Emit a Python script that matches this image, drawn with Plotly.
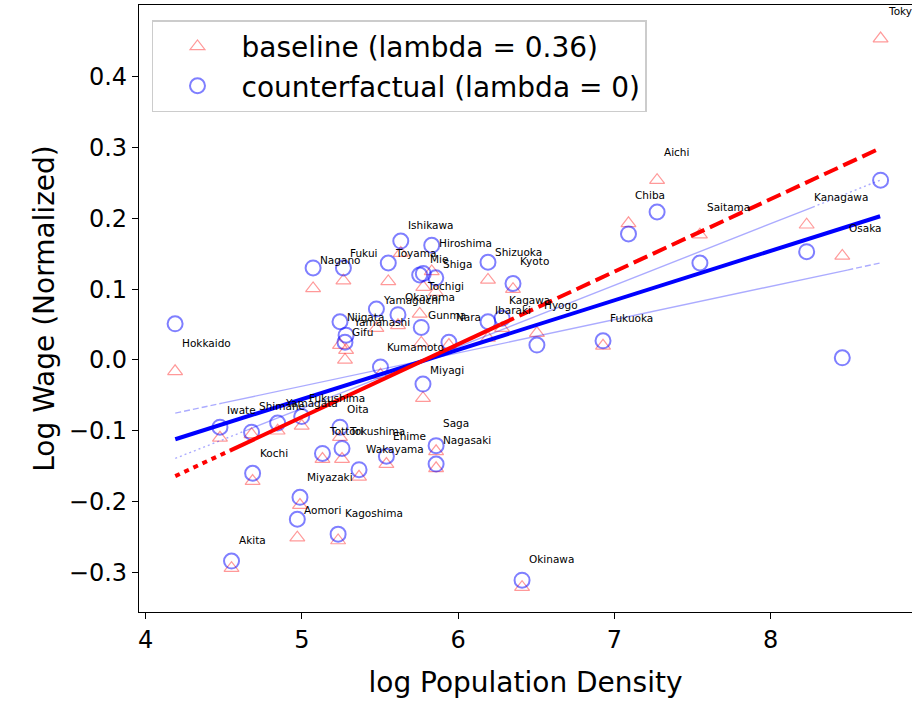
import plotly.graph_objects as go

# ---------------- data ----------------
prefectures = ["Hokkaido", "Aomori", "Iwate", "Miyagi", "Akita", "Yamagata", "Fukushima",
               "Ibaraki", "Tochigi", "Gunma", "Saitama", "Chiba", "Tokyo", "Kanagawa",
               "Niigata", "Toyama", "Ishikawa", "Fukui", "Yamanashi", "Nagano", "Gifu",
               "Shizuoka", "Aichi", "Mie", "Shiga", "Kyoto", "Osaka", "Hyogo", "Nara",
               "Wakayama", "Tottori", "Shimane", "Okayama", "Hiroshima", "Yamaguchi",
               "Tokushima", "Kagawa", "Ehime", "Kochi", "Fukuoka", "Saga", "Nagasaki",
               "Kumamoto", "Oita", "Miyazaki", "Kagoshima", "Okinawa"]

log_density = [4.189, 4.971, 4.476, 5.775, 4.550, 4.845, 4.999,
               6.191, 5.754, 5.764, 7.547, 7.090, 8.703, 8.230,
               5.244, 5.553, 5.633, 5.266, 5.283, 5.072, 5.276,
               6.191, 7.273, 5.777, 5.857, 6.351, 8.458, 6.504, 5.941,
               5.366, 5.132, 4.678, 5.615, 5.831, 5.477,
               5.257, 6.281, 5.541, 4.685, 6.927, 5.859, 5.859,
               5.503, 5.244, 4.988, 5.232, 6.409]

wage_baseline = [-0.016, -0.251, -0.110, -0.054, -0.294, -0.100, -0.093,
                 0.031, 0.065, 0.024, 0.177, 0.193, 0.454, 0.191,
                 0.021, 0.111, 0.151, 0.112, 0.014, 0.101, 0.000,
                 0.113, 0.254, 0.103, 0.096, 0.100, 0.147, 0.038, 0.021,
                 -0.165, -0.140, -0.105, 0.049, 0.125, 0.045,
                 -0.140, 0.045, -0.147, -0.171, 0.020, -0.129, -0.153,
                 -0.021, -0.109, -0.205, -0.255, -0.321]

wage_counterfactual = [0.051, -0.225, -0.095, -0.034, -0.284, -0.089, -0.080,
                       0.054, 0.120, 0.046, 0.137, 0.178, 0.254, 0.153,
                       0.054, 0.137, 0.168, 0.130, 0.035, 0.130, 0.025,
                       0.138, 0.209, 0.122, 0.116, 0.108, 0.003, 0.021, 0.025,
                       -0.155, -0.132, -0.102, 0.064, 0.162, 0.072,
                       -0.125, 0.059, -0.136, -0.160, 0.027, -0.121, -0.147,
                       -0.010, -0.095, -0.194, -0.246, -0.311]

# fitted lines: breakpoints (x) and values (y)
red_fit_x = [4.19, 4.54, 6.27, 8.70]
red_fit_y = [-0.164, -0.128, 0.050, 0.299]
blue_fit_x = [4.19, 8.70]
blue_fit_y = [-0.112, 0.203]
band_low_x = [4.19, 4.49, 8.49, 8.70]
band_low_y = [-0.075, -0.061, 0.127, 0.137]
band_high_x = [4.19, 4.65, 8.27, 8.70]
band_high_y = [-0.139, -0.099, 0.216, 0.254]

legend_labels = ["baseline (lambda = 0.36)", "counterfactual (lambda = 0)"]
x_ticks = [4, 5, 6, 7, 8]
y_ticks = [-0.3, -0.2, -0.1, 0.0, 0.1, 0.2, 0.3, 0.4]
x_title = "log Population Density"
y_title = "Log Wage (Normalized)"

FONT = "DejaVu Sans"

fig = go.Figure()

fig.add_trace(go.Scatter(
    x=log_density, y=wage_baseline, mode="markers", name=legend_labels[0],
    marker=dict(symbol="triangle-up-open", size=13,
                color="rgba(255,0,0,0.4)", line=dict(width=1.2, color="rgba(255,0,0,0.4)")),
))
fig.add_trace(go.Scatter(
    x=log_density, y=wage_counterfactual, mode="markers", name=legend_labels[1],
    marker=dict(symbol="circle-open", size=15,
                color="rgba(0,0,255,0.5)", line=dict(width=2, color="rgba(0,0,255,0.5)")),
))


def seg(xs, ys, i, j, color, width, dash):
    fig.add_trace(go.Scatter(x=xs[i:j + 1], y=ys[i:j + 1], mode="lines", showlegend=False,
                             hoverinfo="skip",
                             line=dict(color=color, width=width, dash=dash)))


light = "rgba(0,0,255,0.33)"
# lower thin line
seg(band_low_x, band_low_y, 0, 1, light, 1.4, "6px,3px")
seg(band_low_x, band_low_y, 1, 2, light, 1.4, "solid")
seg(band_low_x, band_low_y, 2, 3, light, 1.4, "6px,3px")
# upper thin line
seg(band_high_x, band_high_y, 0, 1, light, 1.4, "2px,3px")
seg(band_high_x, band_high_y, 1, 2, light, 1.4, "solid")
seg(band_high_x, band_high_y, 2, 3, light, 1.4, "2px,3px")
# thick blue
seg(blue_fit_x, blue_fit_y, 0, 1, "#0000ff", 4, "solid")
# thick red
seg(red_fit_x, red_fit_y, 0, 1, "#ff0000", 4, "5px,5px")
seg(red_fit_x, red_fit_y, 1, 2, "#ff0000", 4, "solid")
seg(red_fit_x, red_fit_y, 2, 3, "#ff0000", 4, "15px,6px")

for name, xv, yv in zip(prefectures, log_density, wage_baseline):
    fig.add_annotation(x=xv, y=yv, text=name, showarrow=False,
                       xanchor="left", yanchor="middle", xshift=5, yshift=28,
                       font=dict(family=FONT, size=10.5, color="black"))

fig.update_layout(
    width=912, height=702,
    margin=dict(l=139, r=0, t=5, b=90),
    paper_bgcolor="white", plot_bgcolor="white",
    font=dict(family=FONT, color="black"),
    showlegend=True,
    legend=dict(x=0.0168, y=0.975, xanchor="left", yanchor="top",
                bgcolor="rgba(255,255,255,0.8)", bordercolor="#cccccc", borderwidth=1.5,
                font=dict(family=FONT, size=28), itemwidth=78),
)
fig.update_xaxes(range=[3.958, 8.904], tickvals=x_ticks, ticktext=[str(v) for v in x_ticks],
                 showgrid=False, zeroline=False, showline=True, linecolor="black", linewidth=1.2,
                 mirror=True, ticks="outside", ticklen=6, tickwidth=1.2, tickcolor="black",
                 tickfont=dict(family=FONT, size=24),
                 title=dict(text=x_title, font=dict(family=FONT, size=28), standoff=19))
fig.update_yaxes(range=[-0.356, 0.5014], tickvals=y_ticks,
                 ticktext=[("\u2212" if v < 0 else "") + f"{abs(v):.1f}" for v in y_ticks],
                 showgrid=False, zeroline=False, showline=True, linecolor="black", linewidth=1.2,
                 ticks="outside", ticklen=6, tickwidth=1.2, tickcolor="black",
                 tickfont=dict(family=FONT, size=24),
                 title=dict(text=y_title, font=dict(family=FONT, size=28), standoff=6))

fig.write_html("out.html")
